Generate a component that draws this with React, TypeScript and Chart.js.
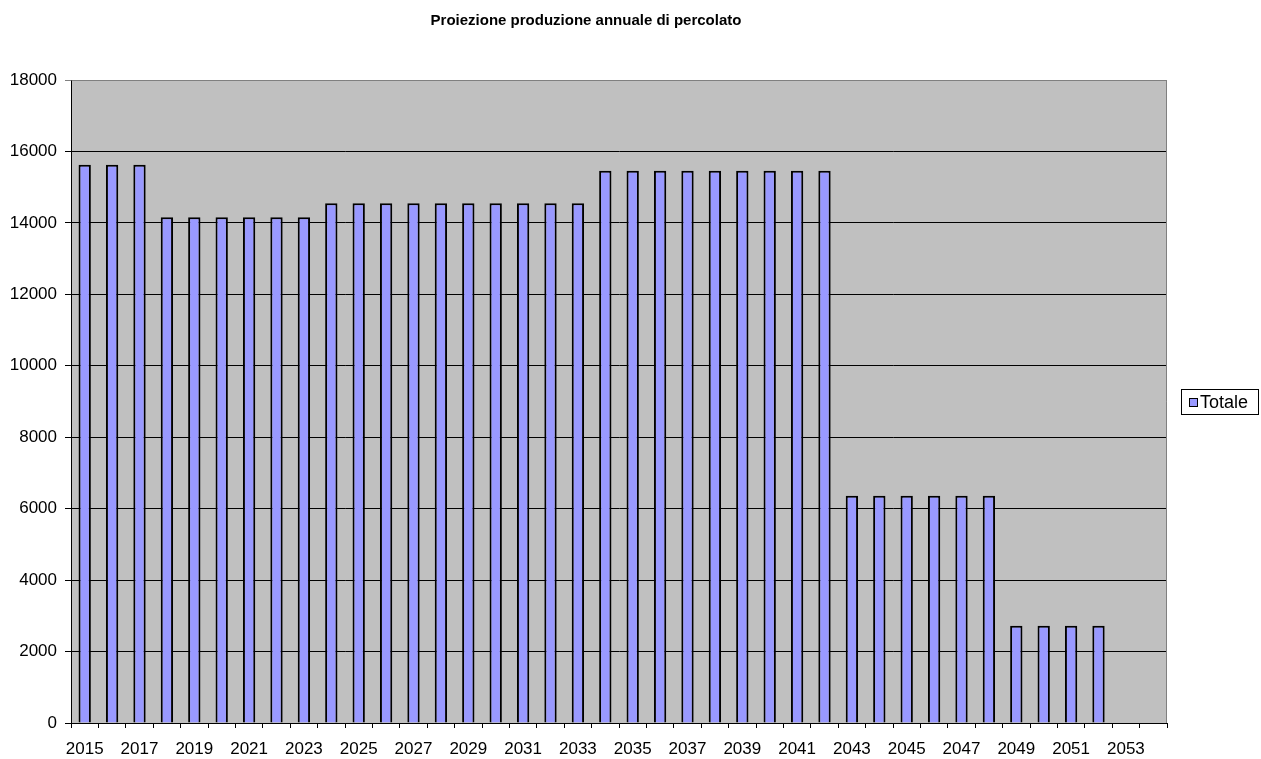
import React, { useEffect, useRef } from "react";
import { Chart, registerables } from "chart.js";

Chart.register(...registerables);

const TITLE = "Proiezione produzione annuale di percolato";
const SERIES_LABEL = "Totale";

const categories = [
  "2015", "2016", "2017", "2018", "2019", "2020", "2021", "2022", "2023", "2024",
  "2025", "2026", "2027", "2028", "2029", "2030", "2031", "2032", "2033", "2034",
  "2035", "2036", "2037", "2038", "2039", "2040", "2041", "2042", "2043", "2044",
  "2045", "2046", "2047", "2048", "2049", "2050", "2051", "2052", "2053", "2054",
];

const totale = [
  15630, 15630, 15630, 14160, 14160, 14160, 14160, 14160, 14160, 14550,
  14550, 14550, 14550, 14550, 14550, 14550, 14550, 14550, 14550, 15460,
  15460, 15460, 15460, 15460, 15460, 15460, 15460, 15460, 6360, 6360,
  6360, 6360, 6360, 6360, 2720, 2720, 2720, 2720, null, null,
];

const yTicks = [0, 2000, 4000, 6000, 8000, 10000, 12000, 14000, 16000, 18000];

const FONT = "'Liberation Sans', Arial, sans-serif";
const BAR_FILL = "#9999FF";
const PLOT_BG = "#C0C0C0";

const decorPlugin = {
  id: "decor",
  beforeDraw(chart: any) {
    const { ctx, chartArea } = chart;
    ctx.save();
    ctx.fillStyle = PLOT_BG;
    ctx.fillRect(chartArea.left, chartArea.top, chartArea.right - chartArea.left, chartArea.bottom - chartArea.top);
    ctx.restore();
  },
  afterDraw(chart: any) {
    const { ctx, chartArea } = chart;
    ctx.save();
    // plot border (gray)
    ctx.strokeStyle = "#808080";
    ctx.lineWidth = 1;
    ctx.beginPath();
    ctx.moveTo(chartArea.left + 0.5, chartArea.top + 0.5);
    ctx.lineTo(chartArea.right - 0.5, chartArea.top + 0.5);
    ctx.lineTo(chartArea.right - 0.5, chartArea.bottom);
    ctx.stroke();

    // title
    ctx.fillStyle = "#000";
    ctx.font = `bold 15px ${FONT}`;
    ctx.textAlign = "center";
    ctx.textBaseline = "middle";
    ctx.fillText(TITLE, 586, 21);

    // legend
    const ds = chart.data.datasets[0];
    const bx = 1181, by = 389, bw = 78, bh = 26;
    ctx.fillStyle = "#fff";
    ctx.fillRect(bx, by, bw, bh);
    ctx.strokeStyle = "#000";
    ctx.lineWidth = 1;
    ctx.strokeRect(bx + 0.5, by + 0.5, bw - 1, bh - 1);
    ctx.fillStyle = ds.backgroundColor;
    ctx.fillRect(bx + 8, by + 9, 9, 9);
    ctx.strokeStyle = "#000";
    ctx.strokeRect(bx + 8.5, by + 9.5, 8, 8);
    ctx.fillStyle = "#000";
    ctx.font = `18px ${FONT}`;
    ctx.textAlign = "left";
    ctx.textBaseline = "middle";
    ctx.fillText(ds.label, bx + 19, by + bh / 2 + 1);
    ctx.restore();
  },
};

export default function App() {
  const canvasRef = useRef<HTMLCanvasElement | null>(null);

  useEffect(() => {
    document.body.style.margin = "0";
    const canvas = canvasRef.current;
    if (!canvas) return;
    const chart = new Chart(canvas, {
      type: "bar",
      data: {
        labels: categories,
        datasets: [
          {
            label: SERIES_LABEL,
            data: totale as any,
            backgroundColor: BAR_FILL,
            borderColor: "#000000",
            borderWidth: 2,
            barPercentage: 0.45,
            categoryPercentage: 1,
          },
        ],
      },
      options: {
        responsive: false,
        animation: false,
        devicePixelRatio: 1,
        layout: { padding: { top: 80, right: 94, left: 0, bottom: 0 } },
        plugins: {
          legend: { display: false },
          title: { display: false },
          tooltip: { enabled: false },
        },
        scales: {
          x: {
            offset: true,
            grid: {
              offset: true,
              drawOnChartArea: false,
              drawTicks: true,
              tickLength: 5,
              color: "#000",
            },
            border: { color: "#000", width: 1 },
            ticks: {
              autoSkip: false,
              maxRotation: 0,
              minRotation: 0,
              padding: 11,
              color: "#000",
              font: { family: FONT, size: 17 },
              callback: (_v: any, i: number) => (i % 2 === 0 ? categories[i] : ""),
            },
            afterFit: (scale: any) => {
              scale.height = 36;
            },
          },
          y: {
            min: 0,
            max: 18000,
            afterBuildTicks: (scale: any) => {
              scale.ticks = yTicks.map((v) => ({ value: v }));
            },
            grid: {
              color: (c: any) => (c.tick && c.tick.value === 18000 ? "#808080" : "#000"),
              lineWidth: 1,
              drawTicks: true,
              tickLength: 6,
            },
            border: { color: "#000", width: 1 },
            ticks: {
              padding: 8,
              color: "#000",
              font: { family: FONT, size: 17 },
              callback: (v: any) => String(v),
            },
            afterFit: (scale: any) => {
              scale.width = 71;
            },
          },
        },
      },
      plugins: [decorPlugin],
    });
    return () => chart.destroy();
  }, []);

  return (
    <div style={{ width: 1261, height: 759 }}>
      <canvas ref={canvasRef} width={1261} height={759} />
    </div>
  );
}
